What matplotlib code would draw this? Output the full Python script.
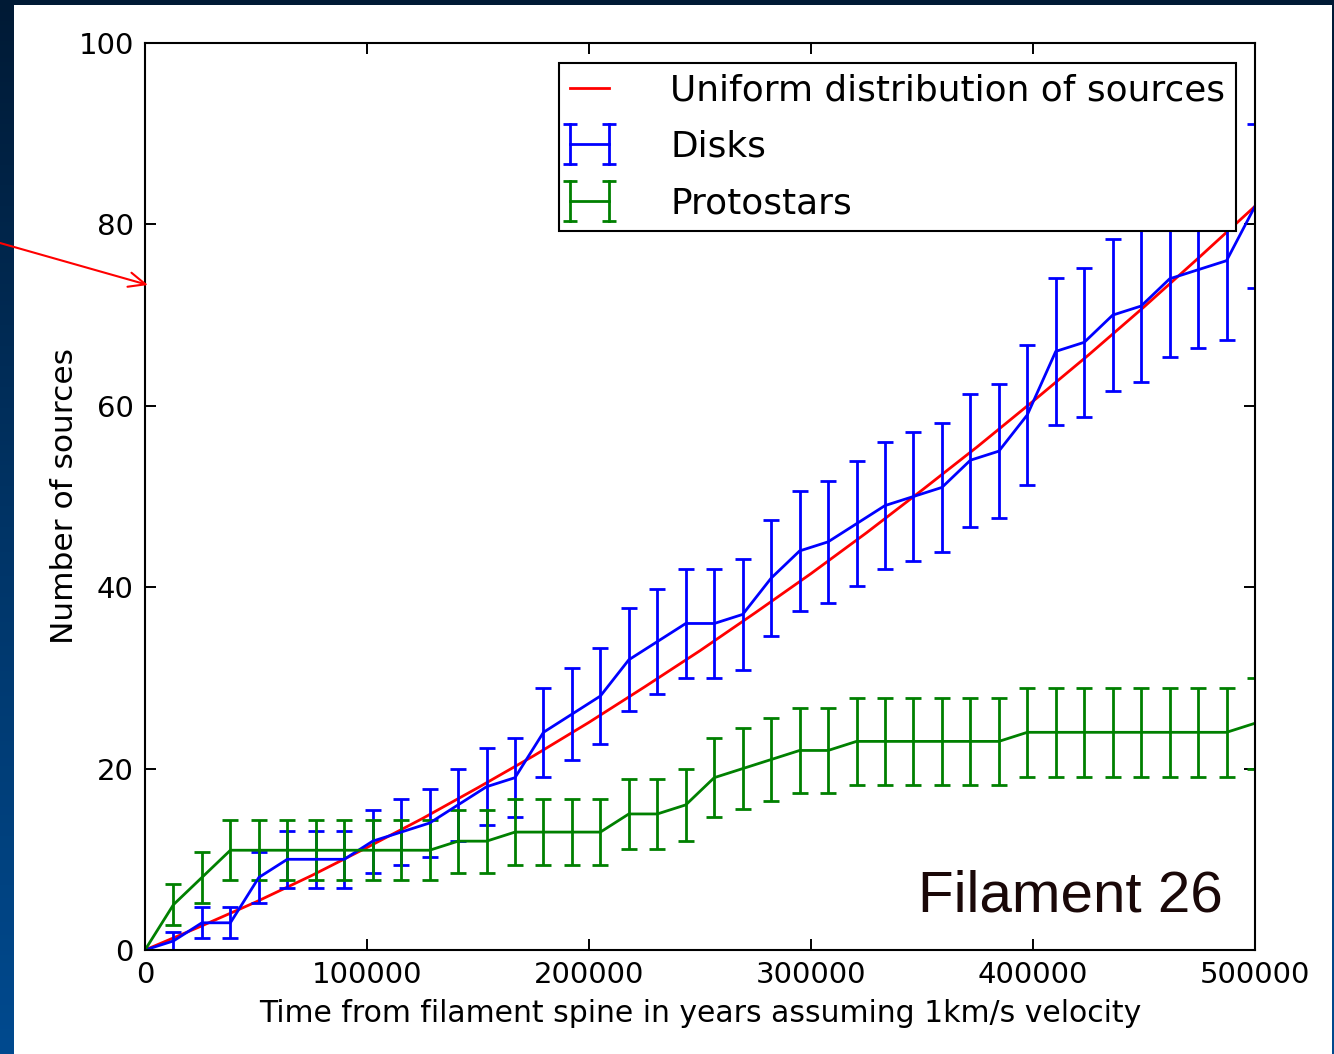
import numpy as np
import matplotlib
matplotlib.use("Agg")
import matplotlib.pyplot as plt
from matplotlib.colors import LinearSegmentedColormap
from matplotlib.legend_handler import HandlerBase
from matplotlib.lines import Line2D
from matplotlib.patches import Rectangle


# Data

# 40 equally spaced bins between 0 and 500000 yr
time_yr = np.linspace(0, 500000, 40)

disks = [0, 1, 3, 3, 8, 10, 10, 10, 12, 13,
         14, 16, 18, 19, 24, 26, 28, 32, 34, 36,
         36, 37, 41, 44, 45, 47, 49, 50, 51, 54,
         55, 59, 66, 67, 70, 71, 74, 75, 76, 82]
disks_err = [0, 1.0, 1.73, 1.73, 2.83, 3.16, 3.16, 3.16, 3.46, 3.61,
             3.74, 4.0, 4.24, 4.36, 4.9, 5.1, 5.29, 5.66, 5.83, 6.0,
             6.0, 6.08, 6.4, 6.63, 6.71, 6.86, 7.0, 7.07, 7.14, 7.35,
             7.42, 7.68, 8.12, 8.19, 8.37, 8.43, 8.6, 8.66, 8.72, 9.06]

protostars = [0, 5, 8, 11, 11, 11, 11, 11, 11, 11,
              11, 12, 12, 13, 13, 13, 13, 15, 15, 16,
              19, 20, 21, 22, 22, 23, 23, 23, 23, 23,
              23, 24, 24, 24, 24, 24, 24, 24, 24, 25]
protostars_err = [0, 2.24, 2.83, 3.32, 3.32, 3.32, 3.32, 3.32, 3.32, 3.32,
                  3.32, 3.46, 3.46, 3.61, 3.61, 3.61, 3.61, 3.87, 3.87, 4.0,
                  4.36, 4.47, 4.58, 4.69, 4.69, 4.8, 4.8, 4.8, 4.8, 4.8,
                  4.8, 4.9, 4.9, 4.9, 4.9, 4.9, 4.9, 4.9, 4.9, 5.0]

# uniform-distribution curve, read every 25000 yr
uniform_x = [0, 25000, 50000, 75000, 100000, 125000, 150000, 175000,
             200000, 225000, 250000, 275000, 300000, 325000, 350000,
             375000, 400000, 425000, 450000, 475000, 500000]
uniform_y = [0, 2.6, 5.3, 8.2, 11.3, 14.5, 17.9, 21.4, 25.1, 29.0, 33.0,
             37.2, 41.5, 46.0, 50.7, 55.5, 60.5, 65.6, 70.9, 76.4, 82.0]

labels = ["Uniform distribution of sources", "Disks", "Protostars"]


# legend handle drawn like the old errorbar legend (an "H")
class HandlerHBar(HandlerBase):
    def create_artists(self, legend, orig_handle, xdescent, ydescent,
                       width, height, fontsize, trans):
        c = orig_handle.get_color()
        x0 = -xdescent
        x1 = -xdescent + width
        ym = -ydescent + height / 2
        h = 0.8 * height
        arts = [
            Line2D([x0, x1], [ym, ym], color=c, lw=2),
            Line2D([x0, x0], [ym - h, ym + h], color=c, lw=2),
            Line2D([x1, x1], [ym - h, ym + h], color=c, lw=2),
            Line2D([x0, x0, x1, x1], [ym - h, ym + h, ym - h, ym + h],
                   ls="none", marker="_", ms=10, mew=2, color=c),
        ]
        for a in arts:
            a.set_transform(trans)
        return arts


W, H = 1334, 1054
fig = plt.figure(figsize=(W / 100, H / 100), dpi=100)

# slide background: blue gradient strip + white panel
bg = fig.add_axes([0, 0, 1, 1], zorder=-10)
bg.axis("off")
cmap = LinearSegmentedColormap.from_list("slide", ["#001a35", "#003466", "#004a8f"])
bg.imshow(np.linspace(0, 1, 256).reshape(-1, 1), aspect="auto", cmap=cmap,
          extent=[0, 1, 0, 1], origin="upper")
bg.add_patch(Rectangle((14 / W, 0), (1332 - 14) / W, 1 - 5 / H,
                       facecolor="white", edgecolor="none"))
bg.set_xlim(0, 1)
bg.set_ylim(0, 1)

ax = fig.add_axes([145 / W, 104 / H, 1110 / W, 907 / H])

ax.plot(uniform_x, uniform_y, color="red", lw=2)
ax.errorbar(time_yr, disks, yerr=disks_err, color="blue", lw=2,
            elinewidth=2, capsize=6, capthick=2)
ax.errorbar(time_yr, protostars, yerr=protostars_err, color="green", lw=2,
            elinewidth=2, capsize=6, capthick=2)

ax.set_xlim(0, 500000)
ax.set_ylim(0, 100)
ax.set_xticks([0, 100000, 200000, 300000, 400000, 500000])
ax.set_yticks([0, 20, 40, 60, 80, 100])
ax.tick_params(direction="in", length=8, width=1.4, top=True, right=True,
               labelsize=21, pad=8)
for s in ax.spines.values():
    s.set_linewidth(1.5)

ax.set_xlabel("Time from filament spine in years assuming 1km/s velocity",
              fontsize=21.5, labelpad=7)
ax.set_ylabel("Number of sources", fontsize=22.5, labelpad=0)

# legend
h_red = Line2D([], [], color="red", lw=2)
h_blue = Line2D([], [], color="blue")
h_green = Line2D([], [], color="green")
leg = ax.legend([h_red, h_blue, h_green], labels,
                handler_map={h_blue: HandlerHBar(), h_green: HandlerHBar()},
                loc="upper right", bbox_to_anchor=(1236 / W, 1 - 63 / H),
                bbox_transform=fig.transFigure, borderaxespad=0,
                fontsize=25.8, fancybox=False, framealpha=1,
                handlelength=1.1, handletextpad=1.7, borderpad=0.3,
                labelspacing=0.62)
leg.get_frame().set_edgecolor("black")
leg.get_frame().set_linewidth(1.5)

# slide overlay text and arrow
fig.text(918 / W, 1 - 912 / H, "Filament 26", fontfamily="Liberation Sans",
         fontsize=42, color="#1a0808", ha="left", va="baseline")
ax.annotate("", xy=(148 / W, 1 - 285 / H), xycoords="figure fraction",
            xytext=(0, 1 - 243 / H), textcoords="figure fraction",
            arrowprops=dict(arrowstyle="->,head_length=0.8,head_width=0.35",
                            color="red", lw=1.5, mutation_scale=15,
                            shrinkA=0, shrinkB=0),
            annotation_clip=False)

fig.savefig("out.png", dpi=100)
